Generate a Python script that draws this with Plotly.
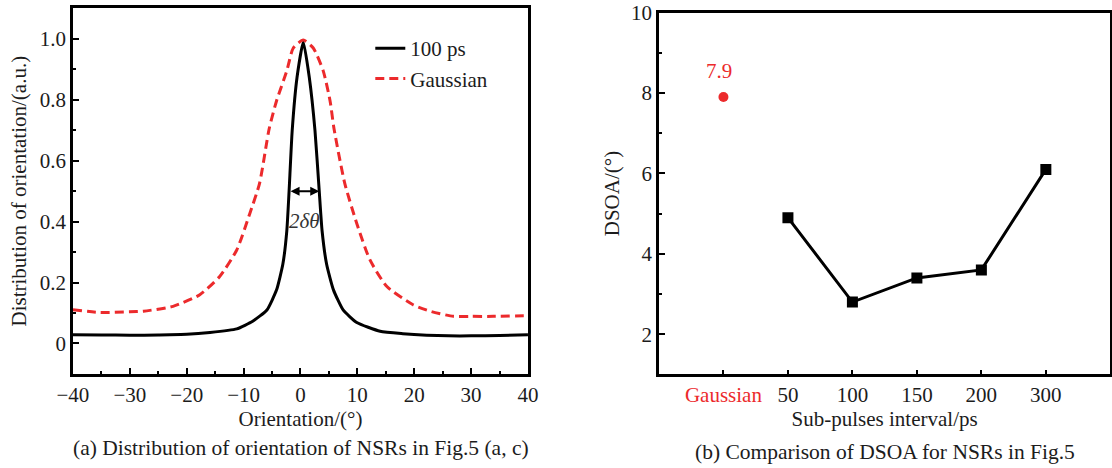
import plotly.graph_objects as go

# ---------------- data: panel (a) ----------------
angle_100ps = [-40, -35, -30, -25, -20, -15.9, -11.2, -8.4, -5.9, -4.2, -3.1, -2.4, -2.0,
               -1.45, -0.6, 0.5, 1.55, 2.55, 3.3, 3.8, 4.6, 5.8, 7.5, 9.9, 14.0, 18, 22.2,
               26, 30, 35, 40]
dist_100ps = [0.029, 0.028, 0.027, 0.028, 0.030, 0.036, 0.048, 0.073, 0.11, 0.176, 0.26,
              0.37, 0.50, 0.70, 0.874, 0.99, 0.874, 0.70, 0.50, 0.37, 0.26, 0.176, 0.11,
              0.069, 0.040, 0.032, 0.027, 0.025, 0.025, 0.026, 0.029]

angle_gauss = [-40, -35.3, -30, -27.6, -22.4, -17.7, -14.2, -11.2, -8.9, -7.2, -5.5, -4.2,
               -2.4, -1.26, 0.5, 2.25, 4.0, 5.2, 5.9, 7.8, 9.9, 12.2, 15.2, 19.8, 23, 26.9,
               30, 33.9, 40]
dist_gauss = [0.111, 0.102, 0.104, 0.106, 0.122, 0.16, 0.22, 0.307, 0.427, 0.525, 0.705,
              0.797, 0.895, 0.97, 0.996, 0.97, 0.895, 0.797, 0.705, 0.525, 0.394, 0.275,
              0.187, 0.127, 0.105, 0.089, 0.089, 0.089, 0.091]

a_xticks = [-40, -30, -20, -10, 0, 10, 20, 30, 40]
a_yticks = [0, 0.2, 0.4, 0.6, 0.8, 1.0]
a_yticktext = ["0", "0.2", "0.4", "0.6", "0.8", "1.0"]
width_bounds = [-2.0, 3.3]   # 2δθ arrow ends (orientation, °)
width_level = 0.5

# ---------------- data: panel (b) ----------------
categories = ["Gaussian", "50", "100", "150", "200", "300"]
gauss_cat = ["Gaussian"]
gauss_dsoa = [7.9]
interval_cat = ["50", "100", "150", "200", "300"]
interval_dsoa = [4.9, 2.8, 3.4, 3.6, 6.1]
b_yticks = [2, 4, 6, 8, 10]

RED = "#ec2a2c"
INK = "#1c1c1c"
FONT = "Liberation Serif"

fig = go.Figure()

fig.add_trace(go.Scatter(x=angle_100ps, y=dist_100ps, mode="lines", name="100 ps",
                         line=dict(color="black", width=3, shape="spline", smoothing=0.5),
                         xaxis="x", yaxis="y"))
fig.add_trace(go.Scatter(x=angle_gauss, y=dist_gauss, mode="lines", name="Gaussian",
                         line=dict(color=RED, width=3, dash="9px,5px", shape="spline", smoothing=0.6),
                         xaxis="x", yaxis="y"))

fig.add_trace(go.Scatter(x=gauss_cat, y=gauss_dsoa, mode="markers", showlegend=False,
                         marker=dict(symbol="circle", size=10, color=RED),
                         xaxis="x2", yaxis="y2"))
fig.add_trace(go.Scatter(x=interval_cat, y=interval_dsoa, mode="lines+markers", showlegend=False,
                         line=dict(color="black", width=3),
                         marker=dict(symbol="square", size=11, color="black"),
                         xaxis="x2", yaxis="y2"))

axis_common = dict(showline=True, linecolor="black", linewidth=2.5, mirror=True,
                   showgrid=False, zeroline=False, ticks="inside", tickcolor="black",
                   tickwidth=2, automargin=False, ticklabeloverflow="allow",
                   tickfont=dict(family=FONT, size=21, color=INK))
title_font = dict(family=FONT, size=21, color=INK)

ydom_a = [0.201, 0.982]
ydom_b = [0.200, 0.973]
fig.update_layout(
    width=1112, height=468,
    margin=dict(l=0, r=0, t=0, b=0),
    paper_bgcolor="white", plot_bgcolor="white",
    font=dict(family=FONT, size=21, color=INK),
    xaxis=dict(domain=[0.0656, 0.4748], range=[-40, 40], tickvals=a_xticks,
               ticklen=6, minor=dict(ticks="inside", dtick=5, ticklen=3, tickcolor="black", tickwidth=2),
               title=dict(text="Orientation/(°)", font=title_font, standoff=2),
               anchor="y", **axis_common),
    yaxis=dict(domain=ydom_a, range=[-0.1, 1.1], tickvals=a_yticks, ticktext=a_yticktext,
               ticklen=6, minor=dict(ticks="inside", dtick=0.1, ticklen=3, tickcolor="black", tickwidth=2),
               title=dict(text="Distribution of orientation/(a.u.)", font=title_font, standoff=8),
               anchor="x", **axis_common),
    xaxis2=dict(domain=[0.5926, 0.9985], type="category", categoryorder="array",
                categoryarray=categories, range=[-1, 6], tickvals=categories,
                ticktext=['<span style="color:%s">Gaussian</span>' % RED] + categories[1:],
                ticklen=5,
                title=dict(text="Sub-pulses interval/ps", font=title_font, standoff=2),
                anchor="y2", **axis_common),
    yaxis2=dict(domain=ydom_b, range=[1, 10], tickvals=b_yticks, ticklen=6,
                minor=dict(ticks="inside", dtick=1, ticklen=3, tickcolor="black", tickwidth=2),
                title=dict(text="DSOA/(°)", font=title_font, standoff=6),
                anchor="x2", **axis_common),
    legend=dict(x=0.333, y=0.94, xanchor="left", yanchor="top", bgcolor="rgba(0,0,0,0)",
                font=dict(family=FONT, size=21, color=INK), tracegroupgap=0),
    showlegend=True,
)

annotations = []
# 2δθ arrow
annotations.append(dict(x=width_bounds[1], y=width_level, ax=width_bounds[0], ay=width_level,
                        xref="x", yref="y", axref="x", ayref="y", text="", showarrow=True,
                        arrowhead=2, arrowside="end+start", arrowsize=0.9, arrowwidth=2,
                        arrowcolor="black"))
annotations.append(dict(x=sum(width_bounds) / 2, y=width_level, xref="x", yref="y",
                        text="<i>2δθ</i>", showarrow=False, yshift=-30,
                        font=dict(family=FONT, size=21, color="#333")))

# data labels in panel (b)
annotations.append(dict(x=gauss_cat[0], y=gauss_dsoa[0], xref="x2", yref="y2",
                        text=f"{gauss_dsoa[0]}", showarrow=False, xshift=-4, yshift=26,
                        font=dict(family=FONT, size=21, color=RED)))
shifts = [(24, 17), (-10, -27), (-5, -25), (-1, -23), (-4, 25)]
for c, v, (dx, dy) in zip(interval_cat, interval_dsoa, shifts):
    annotations.append(dict(x=c, y=v, xref="x2", yref="y2", text=f"{v}", showarrow=False,
                            xshift=dx, yshift=dy, font=dict(family=FONT, size=21, color=INK)))

# captions
annotations.append(dict(x=301 / 1112, y=1 - 448 / 468, xref="paper", yref="paper",
                        text="(a) Distribution of orientation of NSRs in Fig.5 (a, c)",
                        showarrow=False, xanchor="center", yanchor="middle",
                        font=dict(family=FONT, size=21.5, color=INK)))
annotations.append(dict(x=885 / 1112, y=1 - 452 / 468, xref="paper", yref="paper",
                        text="(b) Comparison of DSOA for NSRs in Fig.5",
                        showarrow=False, xanchor="center", yanchor="middle",
                        font=dict(family=FONT, size=21.5, color=INK)))

fig.update_layout(annotations=annotations)
fig.write_html("out.html")
